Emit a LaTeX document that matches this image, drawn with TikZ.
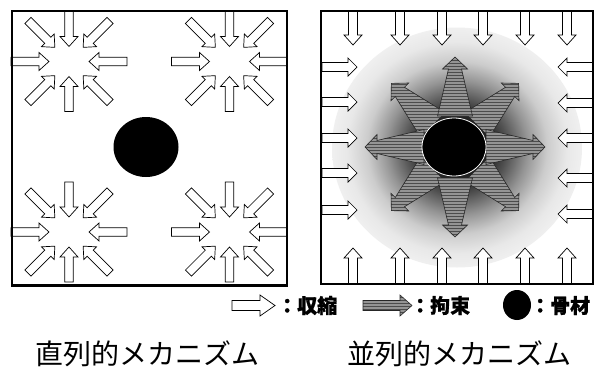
\documentclass[tikz,border=0pt]{standalone}
\usepackage{fontspec}
\newfontfamily\jp{Noto Sans CJK JP}
\newfontfamily\jpb[BoldFeatures={FakeBold=1}]{Noto Sans CJK JP}
\usetikzlibrary{patterns}
\pgfdeclareradialshading{glow}{\pgfpoint{0bp}{0bp}}{color(0bp)=(black); color(7bp)=(black!85); color(10bp)=(black!68); color(14bp)=(black!42); color(18bp)=(black!20); color(22bp)=(black!9); color(25bp)=(black!6); color(50bp)=(black!6)}
\tikzset{
  warr/.style={draw=black, line width=0.7pt, fill=white, line join=miter},
  garr/.style={draw=black!85, line width=0.6pt, preaction={fill=black!42}, pattern=horizontal lines, pattern color=black!70, line join=miter},
  boxline/.style={draw=black, line width=2.8pt},
  legtxt/.style={font=\jpb\bfseries\fontsize{20}{20}\selectfont, inner sep=0pt},
  captxt/.style={font=\jp\fontsize{28}{28}\selectfont, inner sep=0pt}
}
% inward block arrow: cx cy angle rtail rtip
\newcommand\inarr[5]{%
  \begin{scope}[shift={(#1,#2)},rotate=#3]
    \draw[warr] (#4,-4.25) -- (#5+10,-4.25) -- (#5+10,-9) -- (#5,0) -- (#5+10,9) -- (#5+10,4.25) -- (#4,4.25) -- cycle;
  \end{scope}}
\newcommand\clusterat[2]{%
  \inarr{#1}{#2}{0}{58}{20}\inarr{#1}{#2}{180}{58}{20}%
  \inarr{#1}{#2}{90}{50}{15}\inarr{#1}{#2}{270}{50}{15}%
  \inarr{#1}{#2}{45}{58}{20}\inarr{#1}{#2}{135}{58}{20}%
  \inarr{#1}{#2}{225}{58}{20}\inarr{#1}{#2}{315}{58}{20}}
% outward tapered star arrow
\newcommand\starr[1]{%
  \begin{scope}[shift={(455,147)},rotate=#1]
    \draw[garr] (31,-17.5) -- (78,-6.5) -- (78,-12.5) -- (90,0) -- (78,12.5) -- (78,6.5) -- (31,17.5) -- cycle;
  \end{scope}}
\begin{document}
\begin{tikzpicture}[x=1pt,y=-1pt]
\useasboundingbox (0,0) rectangle (600,367);
\fill[white] (0,0) rectangle (600,367);

% ---------- left: serial mechanism ----------
\clusterat{69}{61.5}
\clusterat{229.5}{61.5}
\clusterat{69}{232}
\clusterat{229.5}{232}
\fill[black] (146,147) ellipse [x radius=32.5, y radius=30];
\draw[boxline] (12,11) rectangle (287,285.5);

% ---------- right: parallel mechanism ----------
\shade[shading=glow] (457,147.5) ellipse [x radius=125, y radius=120];
\foreach \X in {353,400,442,483,525,567}{
  \draw[warr] (\X-4.5,11) -- (\X-4.5,35) -- (\X-9,35) -- (\X,45) -- (\X+9,35) -- (\X+4.5,35) -- (\X+4.5,11) -- cycle;
  \draw[warr] (\X-4.5,284) -- (\X-4.5,258) -- (\X-9,258) -- (\X,248) -- (\X+9,258) -- (\X+4.5,258) -- (\X+4.5,284) -- cycle;
}
\foreach \Y in {67,102,138,173,210}{
  \draw[warr] (322,\Y-4.5) -- (348,\Y-4.5) -- (348,\Y-9) -- (357,\Y) -- (348,\Y+9) -- (348,\Y+4.5) -- (322,\Y+4.5) -- cycle;
}
\foreach \Y in {67,103,138,178,214}{
  \draw[warr] (593,\Y-4.5) -- (567,\Y-4.5) -- (567,\Y-9) -- (558,\Y) -- (567,\Y+9) -- (567,\Y+4.5) -- (593,\Y+4.5) -- cycle;
}
\starr{45}\starr{135}\starr{225}\starr{315}
\starr{0}\starr{90}\starr{180}\starr{270}
\draw[white, line width=0.8pt, fill=black] (454,147) ellipse [x radius=32, y radius=29];
\draw[boxline] (321,11) rectangle (593,284);

% ---------- legend ----------
\draw[warr] (232,300.5) -- (260,300.5) -- (260,295) -- (275,305.5) -- (260,316) -- (260,310.5) -- (232,310.5) -- cycle;
\node[legtxt, anchor=west] (l1) at (277,305.5) {：収縮};
\draw[garr] (363,300.5) -- (400,300.5) -- (400,295) -- (412,305.5) -- (400,316) -- (400,310.5) -- (363,310.5) -- cycle;
\node[legtxt, anchor=west] (l2) at (410,305.5) {：拘束};
\fill[black] (517,305) ellipse [x radius=14, y radius=15];
\node[legtxt, anchor=west] (l3) at (530,305.5) {：骨材};

% ---------- captions ----------
\node[captxt, anchor=base] (c1) at (147,364.5) {直列的メカニズム};
\node[captxt, anchor=base] (c2) at (459,364.5) {並列的メカニズム};
\end{tikzpicture}
\end{document}
